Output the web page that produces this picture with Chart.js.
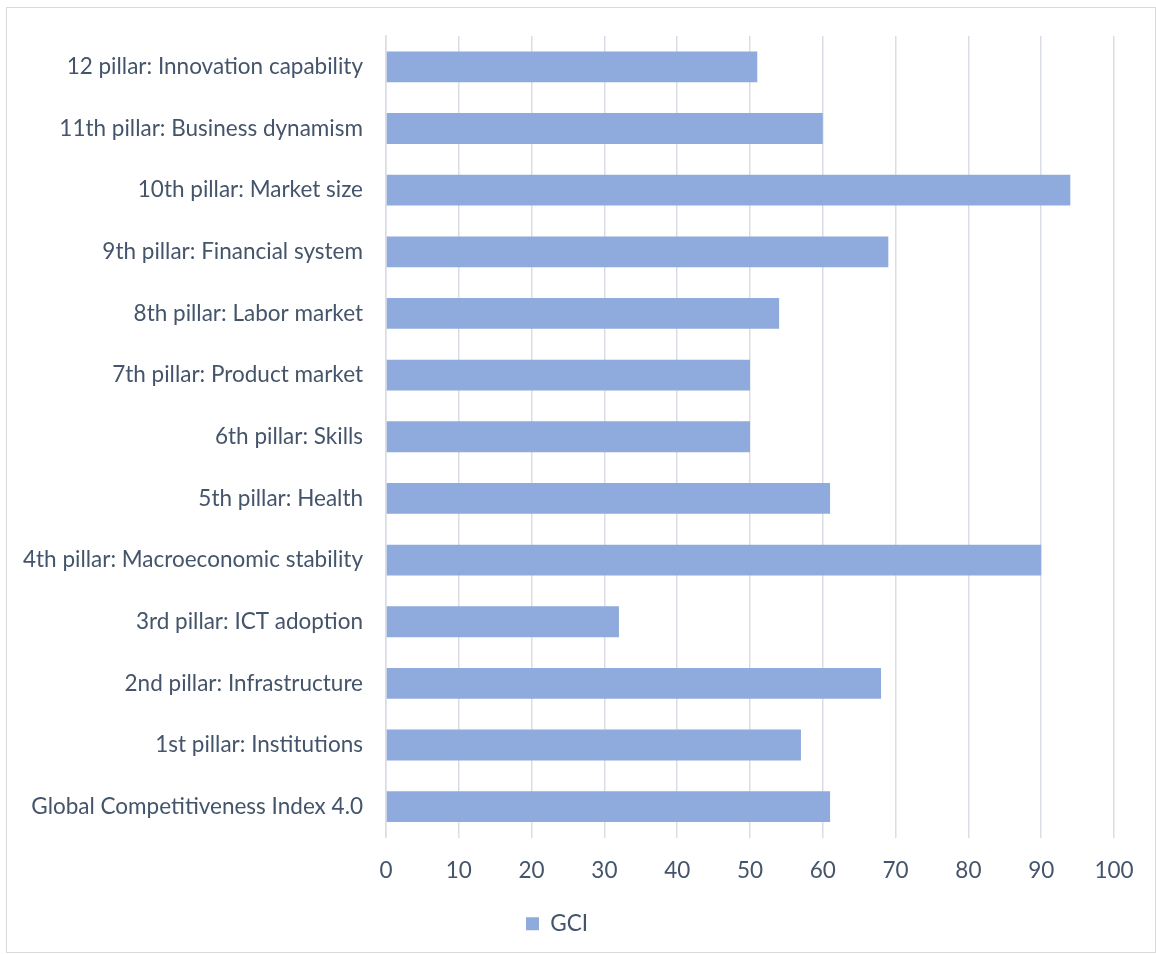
<!DOCTYPE html>
<html>
<head>
<meta charset="utf-8">
<script src="https://cdn.jsdelivr.net/npm/chart.js@4"></script>
<style>
  body { margin: 0; background: #fff; }
  #frame { position: absolute; left: 6px; top: 7px; width: 1150px; height: 946px; border: 1px solid #d9d9d9; box-sizing: border-box; }
  #chart { position: absolute; left: 0; top: 0; }
</style>
</head>
<body>
<div id="frame"></div>
<canvas id="chart" width="1156" height="954"></canvas>
<script>
'use strict'

let pillars = [
        '12 pillar: Innovation capability',
        '11th pillar: Business dynamism',
        '10th pillar: Market size',
        '9th pillar: Financial system',
        '8th pillar: Labor market',
        '7th pillar: Product market',
        '6th pillar: Skills',
        '5th pillar: Health',
        '4th pillar: Macroeconomic stability',
        '3rd pillar: ICT adoption',
        '2nd pillar: Infrastructure',
        '1st pillar: Institutions',
        'Global Competitiveness Index 4.0'],
    gciScores = [51, 60, 94, 69, 54, 50, 50, 61, 90, 32, 68, 57, 61],
    xTicks = [0, 10, 20, 30, 40, 50, 60, 70, 80, 90, 100],
    textColor = '#44546a',
    gridColor = '#d9dee6'

Chart.defaults.font.family = 'Lato, "Open Sans", sans-serif'
Chart.defaults.font.size = 22.5
Chart.defaults.color = textColor

let data = {
    labels: pillars,
    datasets: [{
        label: 'GCI',
        data: gciScores,
        backgroundColor: '#8faadc',
        borderWidth: 0,
        categoryPercentage: 1,
        barPercentage: 0.5
    }]
}

let config = {
    type: 'bar',
    data: data,
    options: {
        indexAxis: 'y',
        responsive: false,
        animation: false,
        layout: {padding: {top: 36, left: 0, right: 42, bottom: 9}},
        scales: {
            x: {
                min: xTicks[0],
                max: xTicks[xTicks.length - 1],
                afterBuildTicks: (axis) => {
                    axis.ticks = xTicks.map(v => ({value: v}))
                },
                grid: {color: gridColor, lineWidth: 1.5, drawTicks: false},
                border: {display: false},
                ticks: {padding: 20}
            },
            y: {
                grid: {display: false},
                border: {display: true, color: gridColor, width: 1.5},
                ticks: {padding: 15},
                afterFit: (scale) => {
                    scale.width = 386
                }
            }
        },
        plugins: {
            legend: {
                position: 'bottom',
                labels: {boxWidth: 13, boxHeight: 13, padding: 8}
            },
            tooltip: {enabled: false}
        }
    }
}

let myChart = new Chart(document.getElementById('chart'), config)
</script>
</body>
</html>
